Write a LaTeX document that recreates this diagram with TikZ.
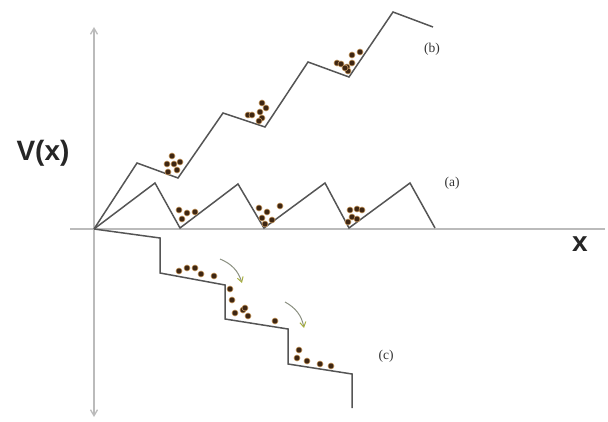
\documentclass[tikz,border=0pt]{standalone}
\usepackage{fontspec}
\setmainfont{Liberation Sans}
\newfontfamily\serifl{Liberation Serif}
\usetikzlibrary{arrows.meta}
\definecolor{curve}{HTML}{555555}
\definecolor{axisc}{HTML}{BBBBBB}
\definecolor{dotc}{HTML}{3E2612}
\definecolor{halo}{HTML}{C89A62}
\definecolor{arrc}{HTML}{8A8F80}
\definecolor{arrh}{HTML}{A8B040}
\tikzset{
  pot/.style={draw=curve, line width=1.5pt, line join=miter},
  axisline/.style={draw=axisc, line width=1.3pt},
  ball/.style={circle, fill=dotc, draw=halo, line width=0.6pt, inner sep=0pt, minimum size=6pt},
  flow/.style={draw=arrc, line width=1pt, -{Straight Barb[length=5pt,width=6pt,color=arrh]}},
  lbl/.style={font=\serifl\fontsize{13.5}{15}\selectfont, text=black!80},
  big/.style={font=\bfseries\fontsize{28}{30}\selectfont, text=black!85}
}
\begin{document}
\begin{tikzpicture}[x=1pt,y=-1pt]
\useasboundingbox (0,0) rectangle (608,422);
% axes
\coordinate (O) at (94,229);
\coordinate (ytop) at (94,27);
\coordinate (ybot) at (94,417);
\coordinate (xl) at (70,229);
\coordinate (xr) at (605,229);
\draw[axisline] (xl) -- (xr);
\draw[axisline, {Straight Barb[length=6pt,width=7pt]}-{Straight Barb[length=6pt,width=7pt]}] (ytop) -- (ybot);
\node[big] (V) at (43,153) {V(x)};
\node[big] (X) at (580,244) {x};
% (b)
\draw[pot] (O) -- (137,163) -- (178,178) -- (223,113) -- (265,127) -- (308,62) -- (349,77) -- (393,12) -- (433,27);
% (a)
\draw[pot] (O) -- (155,183) -- (180,228) -- (238,184) -- (264,228) -- (325,183) -- (349,228) -- (410,183) -- (435,228);
% (c)
\draw[pot] (O) -- (160,238) -- (160,273) -- (225,285) -- (225,319) -- (288,329) -- (288,364) -- (352,374) -- (352,408);
% labels
\node[lbl] (la) at (452,183) {(a)};
\node[lbl] (lb) at (432,49) {(b)};
\node[lbl] (lc) at (386,356) {(c)};
% balls (a)
\foreach \p in {(179,210),(187,213),(195,212),(182,219),
                (259,208),(267,212),(262,218),(272,220),(265,224),(280,206),
                (350,210),(357,209),(362,210),(352,217),(357,219),(348,222)}
  \node[ball] at \p {};
% balls (b)
\foreach \p in {(172,156),(167,164),(174,164),(180,162),(168,172),(177,170),
                (262,103),(266,108),(248,115),(252,115),(260,112),(262,118),(259,121),
                (352,55),(360,52),(337,63),(341,64),(347,67),(352,63),(348,71),(345,68)}
  \node[ball] at \p {};
% balls (c)
\foreach \p in {(179,271),(187,268),(195,268),(201,274),(214,276),
                (230,289),(232,300),(235,313),(243,310),(245,308),(248,316),(275,321),
                (299,350),(297,358),(307,361),(320,364),(331,366)}
  \node[ball] at \p {};
% flow arrows
\coordinate (f1a) at (220,259);
\coordinate (f1b) at (242,283);
\coordinate (f2a) at (285,302);
\coordinate (f2b) at (304,328);
\draw[flow] (f1a) to[bend left=25] (f1b);
\draw[flow] (f2a) to[bend left=25] (f2b);
\end{tikzpicture}
\end{document}
